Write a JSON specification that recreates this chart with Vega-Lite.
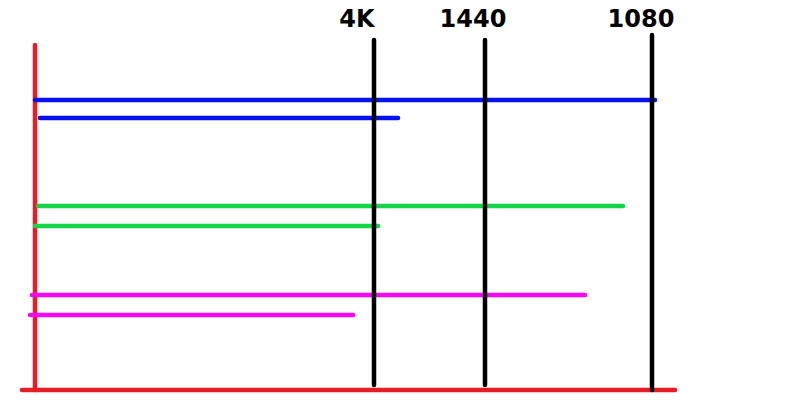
{
  "$schema": "https://vega.github.io/schema/vega-lite/v6.json",
  "width": 800,
  "height": 416,
  "autosize": {"type": "fit", "contains": "padding"},
  "padding": 0,
  "background": "white",
  "config": {"view": {"stroke": null}},
  "datasets": {
    "bars": [
      {"series": "blue", "x0": 0, "x1": 620, "y": 290},
      {"series": "blue", "x0": 5, "x1": 363, "y": 272},
      {"series": "green", "x0": 3, "x1": 588, "y": 184},
      {"series": "green", "x0": 0, "x1": 343, "y": 164},
      {"series": "magenta", "x0": -3, "x1": 550, "y": 95},
      {"series": "magenta", "x0": -5, "x1": 318, "y": 75}
    ],
    "res": [
      {"label": "4K", "x": 339, "y0": 5, "y1": 350, "lx": 322},
      {"label": "1440", "x": 450, "y0": 5, "y1": 350, "lx": 438},
      {"label": "1080", "x": 617, "y0": 0, "y1": 355, "lx": 606}
    ],
    "axes": [
      {"x0": 0, "x1": 0, "y0": 0, "y1": 345},
      {"x0": -13, "x1": 640, "y0": 0, "y1": 0}
    ]
  },
  "layer": [
    {
      "data": {"name": "axes"},
      "mark": {"type": "rule", "color": "#e81c24", "strokeWidth": 4.5, "strokeCap": "round"},
      "encoding": {
        "x": {"field": "x0", "type": "quantitative", "scale": {"domain": [-35, 765], "nice": false, "zero": false}, "axis": null},
        "x2": {"field": "x1"},
        "y": {"field": "y0", "type": "quantitative", "scale": {"domain": [-26, 390], "nice": false, "zero": false}, "axis": null},
        "y2": {"field": "y1"}
      }
    },
    {
      "data": {"name": "bars"},
      "mark": {"type": "rule", "strokeWidth": 4.5, "strokeCap": "round"},
      "encoding": {
        "x": {"field": "x0", "type": "quantitative"},
        "x2": {"field": "x1"},
        "y": {"field": "y", "type": "quantitative"},
        "color": {"field": "series", "type": "nominal", "scale": {"domain": ["blue", "green", "magenta"], "range": ["#0612ee", "#14d448", "#f808f0"]}, "legend": null}
      }
    },
    {
      "data": {"name": "res"},
      "mark": {"type": "rule", "color": "black", "strokeWidth": 4.5, "strokeCap": "round"},
      "encoding": {
        "x": {"field": "x", "type": "quantitative"},
        "y": {"field": "y0", "type": "quantitative"},
        "y2": {"field": "y1"}
      }
    },
    {
      "data": {"name": "res"},
      "mark": {"type": "text", "font": "DejaVu Sans", "fontSize": 24, "fontWeight": "bold", "color": "black", "baseline": "middle", "align": "center"},
      "encoding": {
        "x": {"field": "lx", "type": "quantitative"},
        "y": {"datum": 370, "type": "quantitative"},
        "text": {"field": "label"}
      }
    }
  ]
}
